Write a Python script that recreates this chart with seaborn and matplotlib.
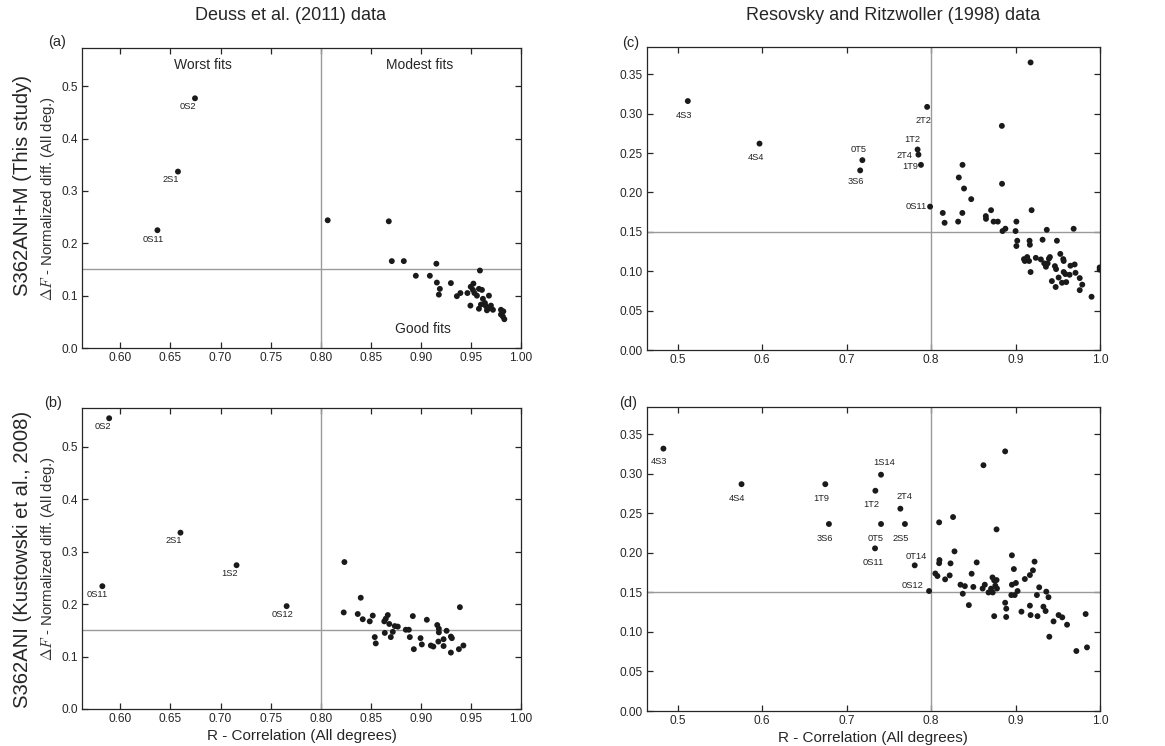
"""
Fit quality of splitting functions: R correlation vs normalized difference,
two models (rows) against two data sets (columns).
"""

import numpy as np
import pandas as pd
import seaborn as sns
import matplotlib
matplotlib.use("Agg")
import matplotlib.pyplot as plt
import matplotlib.ticker as ticker

# ---- data -----------------------------------------------------------------
# (a) S362ANI+M vs Deuss et al. (2011)
a_names = ["0S2", "2S1", "0S11"]
a_named_r = [0.6745, 0.6575, 0.637]
a_named_f = [0.477, 0.337, 0.225]
a_r = [0.807, 0.868, 0.871, 0.883, 0.9155, 0.895, 0.909, 0.916, 0.919, 0.918,
       0.930, 0.936, 0.9395, 0.9465, 0.9495, 0.9498, 0.952, 0.9535, 0.9525, 0.956,
       0.958, 0.959, 0.961, 0.958, 0.960, 0.962, 0.964, 0.965, 0.966, 0.968,
       0.968, 0.970, 0.972, 0.980, 0.9824, 0.980, 0.9834, 0.982]
a_f = [0.244, 0.242, 0.166, 0.166, 0.161, 0.138, 0.138, 0.125, 0.113, 0.102,
       0.124, 0.099, 0.105, 0.105, 0.081, 0.117, 0.111, 0.105, 0.123, 0.100,
       0.113, 0.148, 0.111, 0.075, 0.083, 0.094, 0.086, 0.080, 0.072, 0.100,
       0.076, 0.081, 0.073, 0.073, 0.070, 0.064, 0.055, 0.060]

# (b) S362ANI vs Deuss et al. (2011)
b_names = ["0S2", "2S1", "1S2", "0S11", "0S12"]
b_named_r = [0.5888, 0.660, 0.716, 0.582, 0.766]
b_named_f = [0.554, 0.336, 0.274, 0.234, 0.196]
b_r = [0.8237, 0.823, 0.840, 0.837, 0.842, 0.849, 0.852, 0.854, 0.855, 0.8635,
       0.865, 0.867, 0.864, 0.8685, 0.870, 0.872, 0.874, 0.877, 0.885, 0.888,
       0.889, 0.892, 0.893, 0.8997, 0.901, 0.906, 0.910, 0.9125, 0.9164, 0.918,
       0.918, 0.9175, 0.9227, 0.9227, 0.9257, 0.930, 0.931, 0.930, 0.939, 0.938,
       0.9425]
b_f = [0.280, 0.184, 0.212, 0.181, 0.171, 0.167, 0.178, 0.137, 0.125, 0.167,
       0.172, 0.179, 0.145, 0.162, 0.137, 0.147, 0.158, 0.157, 0.151, 0.151,
       0.137, 0.177, 0.114, 0.135, 0.123, 0.170, 0.121, 0.119, 0.160, 0.153,
       0.146, 0.1285, 0.133, 0.120, 0.149, 0.138, 0.135, 0.1075, 0.194, 0.114,
       0.121]

# (c) S362ANI+M vs Resovsky and Ritzwoller (1998)
c_names = ["4S3", "4S4", "0T5", "3S6", "2T2", "1T2", "2T4", "1T9", "0S11"]
c_named_r = [0.5119, 0.5968, 0.7186, 0.716, 0.7953, 0.784, 0.785, 0.788, 0.7988]
c_named_f = [0.316, 0.262, 0.241, 0.228, 0.3086, 0.2545, 0.248, 0.235, 0.182]
c_r = [0.9178, 0.8838, 0.884, 0.8372, 0.8328, 0.839, 0.8475, 0.8138, 0.816, 0.832,
       0.837, 0.8648, 0.865, 0.871, 0.874, 0.879, 0.8846, 0.888, 0.901, 0.900,
       0.902, 0.901, 0.9166, 0.917, 0.919, 0.9178, 0.910, 0.9138, 0.911, 0.916,
       0.924, 0.930, 0.934, 0.936, 0.938, 0.9395, 0.9407, 0.937, 0.932, 0.949,
       0.9466, 0.948, 0.943, 0.9475, 0.951, 0.953, 0.9565, 0.957, 0.957, 0.959,
       0.955, 0.960, 0.964, 0.965, 0.970, 0.971, 0.9688, 0.976, 0.976, 0.979,
       0.990, 0.9996, 0.9996]
c_f = [0.365, 0.2845, 0.211, 0.235, 0.219, 0.205, 0.1915, 0.174, 0.1615, 0.163,
       0.174, 0.170, 0.1665, 0.1775, 0.163, 0.163, 0.151, 0.154, 0.163, 0.151,
       0.1387, 0.132, 0.1387, 0.1336, 0.1775, 0.099, 0.1154, 0.118, 0.113, 0.113,
       0.117, 0.115, 0.110, 0.1057, 0.110, 0.116, 0.118, 0.1526, 0.140, 0.1387,
       0.1065, 0.1027, 0.0875, 0.080, 0.092, 0.122, 0.1154, 0.113, 0.099, 0.0964,
       0.0854, 0.0862, 0.0955, 0.107, 0.1086, 0.098, 0.1539, 0.0913, 0.076, 0.083,
       0.0676, 0.1048, 0.102]

# (d) S362ANI vs Resovsky and Ritzwoller (1998)
d_names = ["4S3", "4S4", "1T9", "3S6", "1S14", "1T2", "0T5", "0S11", "2T4",
           "2S5", "0T14", "0S12"]
d_named_r = [0.483, 0.5755, 0.6747, 0.679, 0.7407, 0.734, 0.7407, 0.7336, 0.7636,
             0.769, 0.7806, 0.7976]
d_named_f = [0.332, 0.287, 0.287, 0.2366, 0.299, 0.2787, 0.2366, 0.2058, 0.256,
             0.2366, 0.1843, 0.1518]
d_r = [0.8877, 0.862, 0.8775, 0.826, 0.8095, 0.8277, 0.8099, 0.8095, 0.823, 0.805,
       0.8075, 0.8166, 0.822, 0.8348, 0.8375, 0.840, 0.8447, 0.848, 0.850, 0.854,
       0.861, 0.8636, 0.868, 0.871, 0.873, 0.8727, 0.8747, 0.876, 0.8775, 0.878,
       0.8747, 0.8877, 0.889, 0.8889, 0.8957, 0.898, 0.8957, 0.9004, 0.9024, 0.895,
       0.899, 0.907, 0.911, 0.917, 0.9206, 0.9225, 0.917, 0.9178, 0.926, 0.928,
       0.9253, 0.933, 0.9364, 0.939, 0.940, 0.9356, 0.945, 0.951, 0.9553, 0.961,
       0.972, 0.983, 0.9846]
d_f = [0.3285, 0.311, 0.2298, 0.2454, 0.2387, 0.202, 0.191, 0.187, 0.1868, 0.174,
       0.1708, 0.1666, 0.1716, 0.1598, 0.1484, 0.158, 0.134, 0.1737, 0.157, 0.188,
       0.155, 0.1598, 0.150, 0.1548, 0.150, 0.169, 0.1653, 0.1586, 0.1657, 0.155,
       0.120, 0.137, 0.1295, 0.119, 0.197, 0.1796, 0.1598, 0.162, 0.1518, 0.1467,
       0.1467, 0.1257, 0.167, 0.172, 0.178, 0.189, 0.1333, 0.1214, 0.120, 0.1565,
       0.1467, 0.132, 0.151, 0.144, 0.094, 0.1265, 0.1134, 0.1214, 0.1185, 0.1092,
       0.0759, 0.1227, 0.0805]

column_titles = ["Deuss et al. (2011) data", "Resovsky and Ritzwoller (1998) data"]
row_titles = ["S362ANI+M (This study)", "S362ANI (Kustowski et al., 2008)"]

# label offsets in pixels (dx, dy), a styling detail kept apart from the data
a_offsets = [(-7, -8), (-7, -8), (-4, -9)]
b_offsets = [(-6, -8), (-7, -8), (-7, -8), (-5, -8), (-4, -8)]
c_offsets = [(-4, -14), (-4, -14), (-4, 11), (-4, -11), (-4, -14), (-5, 10),
             (-14, -1), (-11, -2), (-14, 0)]
d_offsets = [(-4, -13), (-5, -14), (-4, -14), (-4, -14), (3, 12), (-4, -14),
             (-5, -14), (-2, -14), (4, 12), (-4, -14), (2, 9), (-17, 6)]

# ---- style ----------------------------------------------------------------
sns.set_style("ticks")
plt.rcParams["font.family"] = ["Liberation Sans", "DejaVu Sans"]
plt.rcParams["mathtext.fontset"] = "cm"
plt.rcParams["xtick.direction"] = "in"
plt.rcParams["ytick.direction"] = "in"
plt.rcParams["axes.linewidth"] = 0.9

DOT = "#1a1a1a"
REF = "#9a9a9a"


def panel(ax, names, named_r, named_f, r, f, offsets, letter, letter_off, left_col):
    df = pd.DataFrame({"R": list(named_r) + list(r), "F": list(named_f) + list(f)})
    ax.axvline(0.8, color=REF, lw=1.0, zorder=1)
    ax.axhline(0.15, color=REF, lw=1.0, zorder=1)
    sns.scatterplot(data=df, x="R", y="F", ax=ax, color=DOT, s=18,
                    edgecolor="none", zorder=3, legend=False)
    for name, x, y, (dx, dy) in zip(names, named_r, named_f, offsets):
        ax.annotate(name, (x, y), xytext=(dx, dy), textcoords="offset pixels",
                    ha="center", va="center", fontsize=6.7, color="#222222")

    if left_col:
        ax.set_xlim(0.5617, 1.0)
        ax.set_ylim(0, 0.573)
        ax.xaxis.set_major_locator(ticker.MultipleLocator(0.05))
        ax.xaxis.set_major_formatter(ticker.FormatStrFormatter("%.2f"))
        ax.yaxis.set_major_locator(ticker.MultipleLocator(0.1))
        ax.yaxis.set_major_formatter(ticker.FormatStrFormatter("%.1f"))
        ax.set_ylabel(r"$\Delta F$ - Normalized diff. (All deg.)",
                      fontsize=10.8, color="#333333", labelpad=3)
    else:
        ax.set_xlim(0.4632, 1.0)
        ax.set_ylim(0, 0.385)
        ax.xaxis.set_major_locator(ticker.MultipleLocator(0.1))
        ax.xaxis.set_major_formatter(ticker.FormatStrFormatter("%.1f"))
        ax.yaxis.set_major_locator(ticker.MultipleLocator(0.05))
        ax.yaxis.set_major_formatter(ticker.FormatStrFormatter("%.2f"))
        ax.set_ylabel("")
    ax.set_xlabel("")
    ax.tick_params(top=True, right=True, length=4, width=0.9,
                   labelsize=8.6, pad=3)
    ax.annotate(letter, (0, 1), xycoords="axes fraction", xytext=letter_off,
                textcoords="offset pixels", fontsize=10.5, ha="center", va="center")


fig = plt.figure(figsize=(11.65, 7.46), dpi=100)
ax_a = fig.add_axes([0.0704, 0.5335, 0.3768, 0.4021])
ax_b = fig.add_axes([0.0704, 0.0496, 0.3768, 0.4031])
ax_c = fig.add_axes([0.5551, 0.5308, 0.3891, 0.4066])
ax_d = fig.add_axes([0.5551, 0.0469, 0.3891, 0.4079])

panel(ax_a, a_names, a_named_r, a_named_f, a_r, a_f, a_offsets, "(a)", (-25, 6), True)
panel(ax_b, b_names, b_named_r, b_named_f, b_r, b_f, b_offsets, "(b)", (-29, 5), True)
panel(ax_c, c_names, c_named_r, c_named_f, c_r, c_f, c_offsets, "(c)", (-16, 4), False)
panel(ax_d, d_names, d_named_r, d_named_f, d_r, d_f, d_offsets, "(d)", (-19, 4), False)

# quadrant captions on panel (a)
for txt, x, y in [("Worst fits", 0.6825, 0.541), ("Modest fits", 0.899, 0.541),
                  ("Good fits", 0.902, 0.037)]:
    ax_a.text(x, y, txt, ha="center", va="center", fontsize=10)

for ax in (ax_b, ax_d):
    ax.set_xlabel("R - Correlation (All degrees)", fontsize=11, labelpad=3)

fig.text(0.2495, 0.9786, column_titles[0], ha="center", va="center", fontsize=13)
fig.text(0.7663, 0.9786, column_titles[1], ha="center", va="center", fontsize=13)
fig.text(0.019, 0.7507, row_titles[0], rotation=90, ha="center", va="center",
         fontsize=14.6)
fig.text(0.019, 0.2507, row_titles[1], rotation=90, ha="center", va="center",
         fontsize=14.6)

fig.savefig("out.png", dpi=100)
